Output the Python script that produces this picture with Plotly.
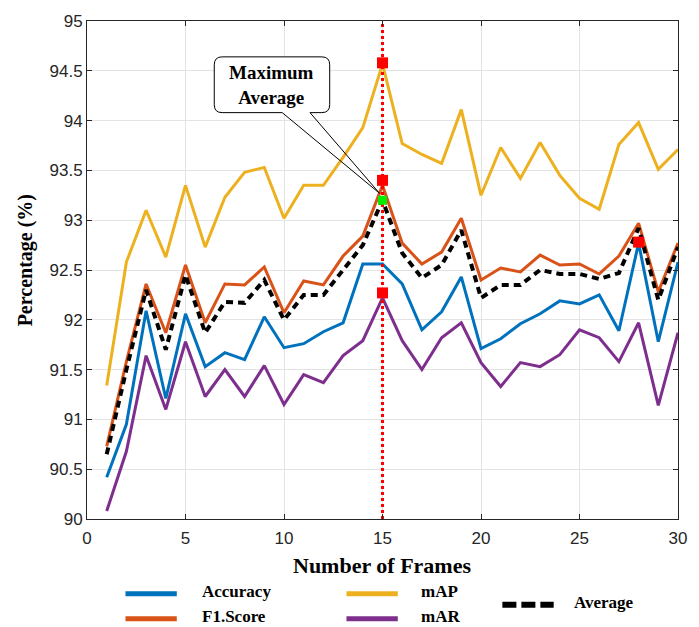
import plotly.graph_objects as go

frames = list(range(1, 31))
accuracy = [90.42, 90.95, 92.09, 91.21, 92.06, 91.53, 91.67, 91.60, 92.03, 91.72,
            91.76, 91.88, 91.97, 92.56, 92.56, 92.36, 91.90, 92.08, 92.43, 91.71,
            91.81, 91.96, 92.06, 92.19, 92.16, 92.25, 91.89, 92.77, 91.78, 92.58]
f1_score = [90.73, 91.58, 92.36, 91.87, 92.55, 91.97, 92.36, 92.35, 92.53, 92.07,
            92.39, 92.35, 92.64, 92.84, 93.35, 92.77, 92.56, 92.68, 93.02, 92.40,
            92.52, 92.48, 92.65, 92.55, 92.56, 92.46, 92.64, 92.97, 92.28, 92.77]
mAP = [91.34, 92.58, 93.10, 92.63, 93.35, 92.73, 93.23, 93.48, 93.53, 93.02,
       93.35, 93.35, 93.63, 93.93, 94.57, 93.77, 93.66, 93.57, 94.11, 93.25,
       93.73, 93.42, 93.78, 93.45, 93.22, 93.11, 93.76, 93.98, 93.51, 93.71]
mAR = [90.08, 90.68, 91.64, 91.10, 91.78, 91.23, 91.50, 91.23, 91.54, 91.15,
       91.45, 91.37, 91.64, 91.79, 92.22, 91.79, 91.50, 91.82, 91.97, 91.57,
       91.33, 91.57, 91.53, 91.65, 91.90, 91.82, 91.58, 91.97, 91.14, 91.87]
average = [90.65, 91.50, 92.30, 91.70, 92.45, 91.87, 92.18, 92.17, 92.40, 92.00,
           92.25, 92.25, 92.50, 92.75, 93.20, 92.67, 92.42, 92.55, 92.90, 92.22,
           92.35, 92.35, 92.50, 92.46, 92.46, 92.41, 92.47, 92.92, 92.20, 92.73]

red_x = [15, 15, 15, 28]
red_y = [94.58, 93.40, 92.27, 92.78]
best_x = [15]
best_y = [93.20]

x_ticks = [0, 5, 10, 15, 20, 25, 30]
y_ticks = [90, 90.5, 91, 91.5, 92, 92.5, 93, 93.5, 94, 94.5, 95]
y_tick_text = ["90", "90.5", "91", "91.5", "92", "92.5", "93", "93.5", "94", "94.5", "95"]

series = [
    ("Accuracy", accuracy, "#0072BD"),
    ("F1.Score", f1_score, "#D95319"),
    ("mAP", mAP, "#EDB120"),
    ("mAR", mAR, "#7E2F8E"),
]

W, H = 699, 627
L, R, T, B = 87, 13, 20, 108
PW, PH = W - L - R, H - T - B


def px(xp):
    return (xp - L) / PW


def py(yp):
    return (H - B - yp) / PH


SERIF = "Liberation Serif"
SANS = "Liberation Sans"

fig = go.Figure()
for name, vals, col in series:
    fig.add_trace(go.Scatter(x=frames, y=vals, mode="lines", name=name,
                             line=dict(color=col, width=3), showlegend=False))
fig.add_trace(go.Scatter(x=frames, y=average, mode="lines", name="Average",
                         line=dict(color="black", width=4, dash="7px,5px"),
                         showlegend=False))
# vertical dotted line at the best frame count
fig.add_trace(go.Scatter(x=[best_x[0], best_x[0]], y=[90, 95.05], mode="lines",
                         line=dict(color="#FF0000", width=3, dash="dot"),
                         showlegend=False, cliponaxis=False))
fig.add_trace(go.Scatter(x=red_x, y=red_y, mode="markers",
                         marker=dict(symbol="square", size=11, color="#FF0000"),
                         showlegend=False))
fig.add_trace(go.Scatter(x=best_x, y=best_y, mode="markers",
                         marker=dict(symbol="square", size=9, color="#00EE00",
                                     line=dict(color="#00CC00", width=0)),
                         showlegend=False))

shapes = []
# callout bubble (data coordinates)
bx0, bx1 = 6.46, 12.32
by0, by1 = 94.08, 94.64
rx, ry = 0.4, 0.08
t0, t1 = 9.91, 11.32
tipx, tipy = best_x[0] - 0.15, best_y[0] + 0.07
rect_path = (f"M {bx0+rx},{by1} L {bx1-rx},{by1} Q {bx1},{by1} {bx1},{by1-ry} "
             f"L {bx1},{by0+ry} Q {bx1},{by0} {bx1-rx},{by0} L {bx0+rx},{by0} "
             f"Q {bx0},{by0} {bx0},{by0+ry} L {bx0},{by1-ry} Q {bx0},{by1} {bx0+rx},{by1} Z")
shapes.append(dict(type="path", xref="x", yref="y", path=rect_path,
                   fillcolor="white", line=dict(width=0), layer="above"))
outline = (f"M {t1},{by0} L {bx1-rx},{by0} Q {bx1},{by0} {bx1},{by0+ry} "
           f"L {bx1},{by1-ry} Q {bx1},{by1} {bx1-rx},{by1} L {bx0+rx},{by1} "
           f"Q {bx0},{by1} {bx0},{by1-ry} L {bx0},{by0+ry} Q {bx0},{by0} {bx0+rx},{by0} "
           f"L {t0},{by0} L {tipx},{tipy} L {t1},{by0}")
shapes.append(dict(type="path", xref="x", yref="y", path=outline,
                   fillcolor="rgba(0,0,0,0)", line=dict(color="black", width=1),
                   layer="above"))

annotations = [
    dict(x=(bx0 + bx1) / 2, y=(by0 + by1) / 2, xref="x", yref="y",
         xanchor="center", yanchor="middle",
         text="<b>Maximum<br>Average</b>", showarrow=False,
         font=dict(family=SERIF, size=19, color="black"), align="center"),
    dict(x=px(386), y=py(566), xref="paper", yref="paper", text="<b>Number of Frames</b>",
         xanchor="center", yanchor="middle",
         showarrow=False, font=dict(family=SERIF, size=22, color="black")),
    dict(x=px(25), y=py(260), xref="paper", yref="paper", text="<b>Percentage (%)</b>",
         xanchor="center", yanchor="middle",
         showarrow=False, textangle=-90, font=dict(family=SERIF, size=20, color="black")),
]

# legend
legend_items = [
    ("Accuracy", "#0072BD", 126, 178, 594, 202, "solid", 5),
    ("F1.Score", "#D95319", 126, 178, 619, 202, "solid", 5),
    ("mAP", "#EDB120", 350, 402, 594, 423, "solid", 5),
    ("mAR", "#7E2F8E", 350, 402, 619, 423, "solid", 5),
    ("Average", "black", 508, 560, 605, 579, "14px,5px", 6),
]
for name, col, x0, x1, yy, xt, dash, w in legend_items:
    shapes.append(dict(type="line", xref="paper", yref="paper",
                       x0=px(x0), x1=px(x1), y0=py(yy), y1=py(yy),
                       line=dict(color=col, width=w, dash=dash)))
    annotations.append(dict(x=px(xt), y=py(yy - 2), xref="paper", yref="paper",
                            text=f"<b>{name}</b>", showarrow=False,
                            xanchor="left", yanchor="middle",
                            font=dict(family=SERIF, size=17, color="black")))

axis_common = dict(showline=True, linecolor="#262626", linewidth=1, mirror="ticks",
                   ticks="inside", ticklen=5, tickcolor="#262626",
                   showgrid=True, gridcolor="#E3E3E3", gridwidth=1, zeroline=False,
                   tickfont=dict(family=SANS, size=17, color="#262626"))

fig.update_layout(
    width=W, height=H, margin=dict(l=L, r=R, t=T, b=B),
    plot_bgcolor="white", paper_bgcolor="white", showlegend=False,
    xaxis=dict(range=[0, 30], tickvals=x_ticks, ticklabelstandoff=4, **axis_common),
    yaxis=dict(range=[90, 95], tickvals=y_ticks, ticktext=y_tick_text, **axis_common),
    shapes=shapes, annotations=annotations,
)

fig.write_html("out.html")
